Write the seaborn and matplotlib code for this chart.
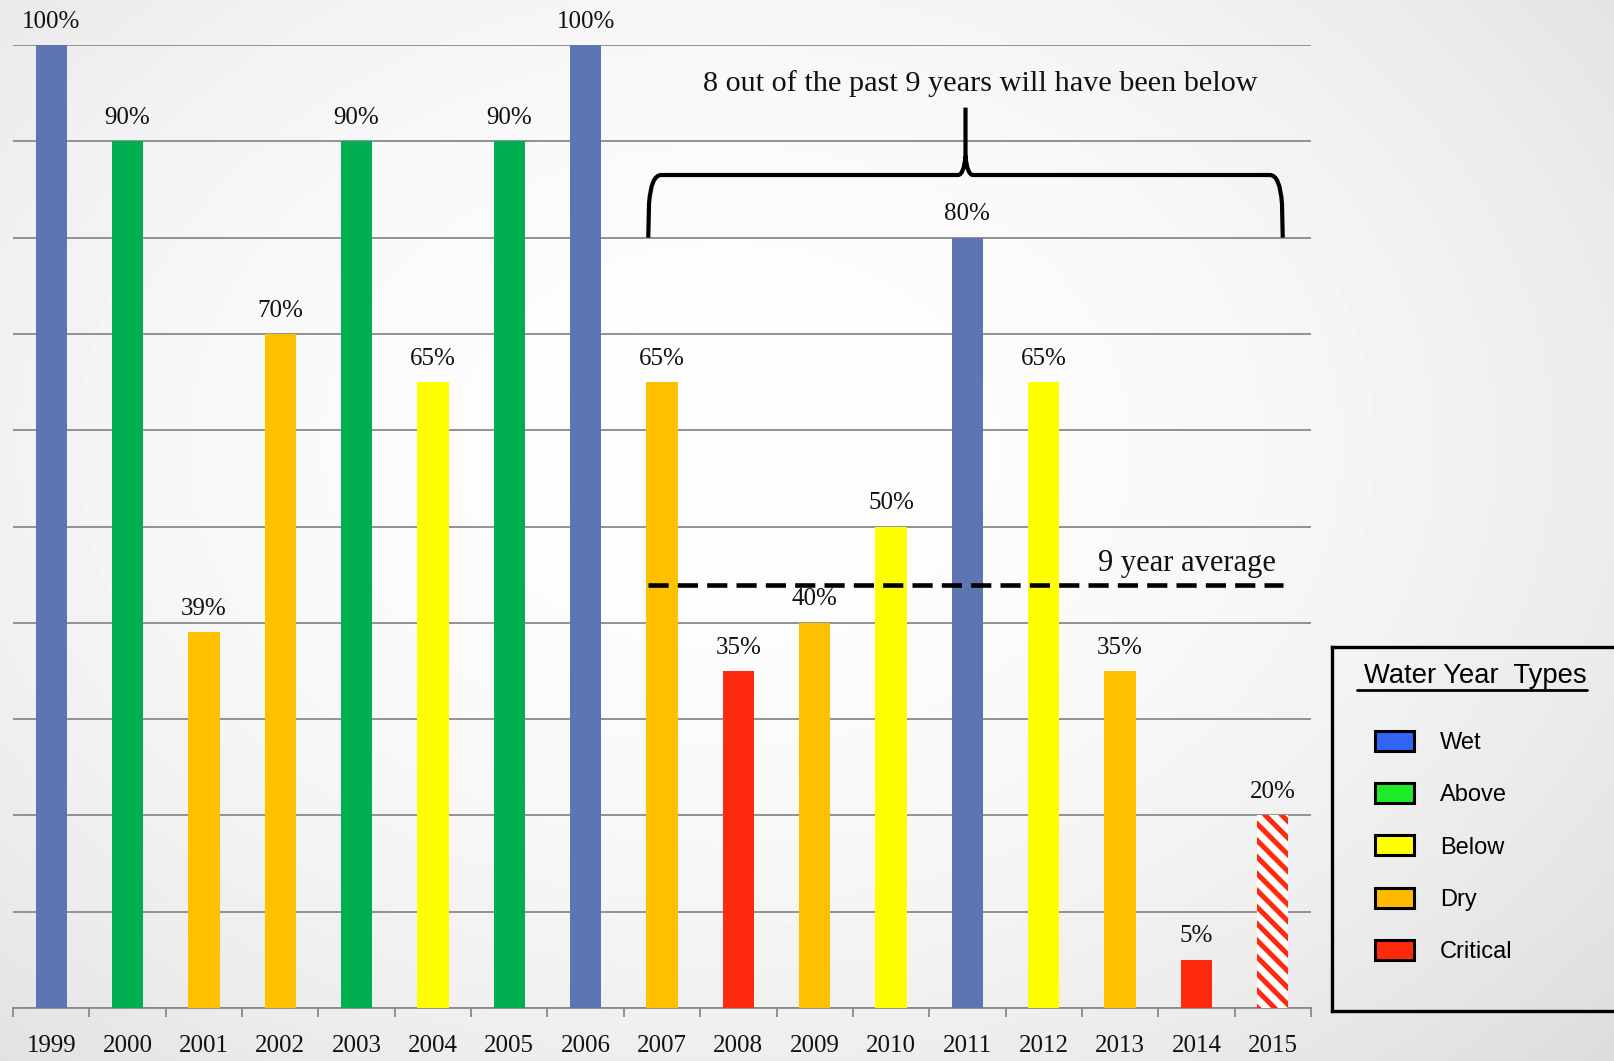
import numpy as np
import pandas as pd
import matplotlib
matplotlib.use("Agg")
import matplotlib.pyplot as plt
import seaborn as sns
from matplotlib.path import Path
from matplotlib.patches import PathPatch, Patch
from matplotlib.lines import Line2D
from matplotlib.transforms import IdentityTransform

# ---------------- data ----------------
years = ["1999", "2000", "2001", "2002", "2003", "2004", "2005", "2006", "2007",
         "2008", "2009", "2010", "2011", "2012", "2013", "2014", "2015"]
percent = [100, 90, 39, 70, 90, 65, 90, 100, 65, 35, 40, 50, 80, 65, 35, 5, 20]
year_type = ["Wet", "Above", "Dry", "Dry", "Above", "Below", "Above", "Wet", "Dry",
             "Critical", "Dry", "Below", "Wet", "Below", "Dry", "Critical", "Critical"]
projected_years = ["2015"]
type_order = ["Wet", "Above", "Below", "Dry", "Critical"]
bar_colors = {"Wet": "#5E75B3", "Above": "#00B050", "Below": "#FFFF00",
              "Dry": "#FFC000", "Critical": "#FF2A0D"}
legend_colors = {"Wet": "#3163F5", "Above": "#1EEB28", "Below": "#FFFF00",
                 "Dry": "#FFBA00", "Critical": "#FF2A0D"}
span_years = years[8:]          # 2007 - 2015
bracket_text = "8 out of the past 9 years will have been below"
average_text = "9 year average"
legend_title = "Water Year  Types"

df = pd.DataFrame({"year": years, "pct": percent, "type": year_type})

# ---------------- style ----------------
sns.set_theme(style="white")
plt.rcParams["font.family"] = ["Liberation Serif", "DejaVu Serif"]
plt.rcParams["hatch.linewidth"] = 3.6
SERIF = ["Liberation Serif", "DejaVu Serif"]
SANS = ["Liberation Sans", "DejaVu Sans"]
INK = "#111111"

W, H = 1614, 1061
fig = plt.figure(figsize=(W / 100, H / 100), dpi=100)

# slide-like background gradient
bg = fig.add_axes([0, 0, 1, 1], zorder=-10)
yy, xx = np.mgrid[0:1:300j, 0:1:400j]
r = np.sqrt(((xx - 0.45) / 0.62) ** 2 + ((yy - 0.42) / 0.70) ** 2)
val = 0.995 - 0.09 * np.clip(r, 0, 1.4) ** 2
bg.imshow(val, cmap="gray", vmin=0, vmax=1, extent=[0, 1, 0, 1], aspect="auto",
          origin="upper", interpolation="bilinear")
bg.set_axis_off()

# main axes
ax = fig.add_axes([13 / W, 1 - 1008 / H, (1311 - 13) / W, (1008 - 45) / H])
ax.set_facecolor("none")

sns.barplot(data=df, x="year", y="pct", hue="type", hue_order=type_order,
            order=years, palette=bar_colors, dodge=False, width=0.41,
            saturation=1, legend=False, ax=ax, zorder=3, linewidth=0)

# projected year: hatched
proj_idx = [years.index(y) for y in projected_years]
for p in ax.patches:
    c = p.get_x() + p.get_width() / 2
    if int(round(c)) in proj_idx:
        p.set_facecolor("white")
        p.set_edgecolor(bar_colors["Critical"])
        p.set_hatch("\\\\")
        p.set_linewidth(0)

# value labels
for i, v in enumerate(percent):
    ax.annotate(f"{v}%", (i, v), xytext=(0, 12.5), textcoords="offset points",
                ha="center", va="baseline", fontsize=18, family=SERIF,
                color=INK, annotation_clip=False)

ax.set_xlim(-0.5, len(years) - 0.5)
ax.set_ylim(0, 100)
ax.set_yticks(np.arange(0, 101, 10))
ax.yaxis.grid(True, color="#8a8a8a", linewidth=1.3)
ax.set_axisbelow(True)
ax.tick_params(axis="y", left=False, labelleft=False)
ax.set_xticks(np.arange(-0.5, len(years), 1), minor=True)
ax.tick_params(axis="x", which="major", length=0, pad=19.5, labelsize=18,
               labelcolor=INK)
ax.tick_params(axis="x", which="minor", bottom=True, length=6.5, width=1.3,
               color="#8a8a8a", direction="out")
for lab in ax.get_xticklabels():
    lab.set_family(SERIF)
ax.set_xlabel("")
ax.set_ylabel("")
for s in ["left", "right", "top"]:
    ax.spines[s].set_visible(False)
ax.spines["bottom"].set_color("#8a8a8a")
ax.spines["bottom"].set_linewidth(1.3)

# ---------------- 9 year span annotations ----------------
i0 = years.index(span_years[0])
i1 = years.index(span_years[-1])
L = i0 - 0.18
R = i1 + 0.13
M = (L + R) / 2
y0, y1, ytip = 80, 86.5, 93.5

verts = [(L, y0), (L + 0.01, y1 - 3.0), (L + 0.035, y1), (L + 0.17, y1),
         (M - 0.10, y1), (M - 0.02, y1), (M, y1 + 2.0), (M, ytip),
         (M, y1 + 2.0), (M + 0.02, y1), (M + 0.10, y1),
         (R - 0.17, y1), (R - 0.035, y1), (R - 0.01, y1 - 3.0), (R, y0)]
codes = [Path.MOVETO, Path.LINETO, Path.CURVE3, Path.CURVE3,
         Path.LINETO, Path.CURVE3, Path.CURVE3, Path.LINETO,
         Path.MOVETO, Path.CURVE3, Path.CURVE3,
         Path.LINETO, Path.CURVE3, Path.CURVE3, Path.LINETO]
ax.add_patch(PathPatch(Path(verts, codes), facecolor="none", edgecolor="black",
                       linewidth=3, capstyle="butt", joinstyle="round",
                       zorder=5, clip_on=False))
ax.text(M + 0.2, 96.0, bracket_text, ha="center", va="center", fontsize=21.8,
        family=SERIF, color=INK, clip_on=False)

avg = float(np.mean(percent[i0:i1 + 1]))
ax.plot([L, R], [avg, avg], color="black", linewidth=3.3, dashes=(4.4, 2.0),
        zorder=6, solid_capstyle="butt", dash_capstyle="butt")
ax.text(14.88, avg + 2.3, average_text, ha="center", va="center", fontsize=22,
        family=SERIF, color=INK)

# ---------------- legend box ----------------
lx0, ly0, ly1 = 1332, 647, 1011
lw_px = 330
ax_leg = fig.add_axes([lx0 / W, 1 - ly1 / H, lw_px / W, (ly1 - ly0) / H])
ax_leg.set_facecolor("none")
ax_leg.set_xticks([])
ax_leg.set_yticks([])
for s in ax_leg.spines.values():
    s.set_visible(True)
    s.set_color("black")
    s.set_linewidth(2.4)

title = ax_leg.text(32 / lw_px, 1 - (676 - ly0) / (ly1 - ly0), legend_title,
                    ha="left", va="center", fontsize=19.7, family=SANS,
                    color="black")

handles = [Patch(facecolor=legend_colors[t], edgecolor="black", linewidth=2.2)
           for t in type_order]
leg = ax_leg.legend(handles, type_order, loc="upper left",
                    bbox_to_anchor=(43 / lw_px, 1 - (731 - ly0) / (ly1 - ly0)),
                    frameon=False, prop={"family": SANS, "size": 17},
                    handlelength=1.65, handleheight=0.93, handletextpad=1.1,
                    labelspacing=1.23, borderpad=0, borderaxespad=0,
                    labelcolor="black")

fig.canvas.draw()
bb = title.get_window_extent(fig.canvas.get_renderer())
fig.add_artist(Line2D([bb.x0 - 7, bb.x1], [bb.y0 - 1, bb.y0 - 1], color="black",
                      linewidth=2.0, transform=IdentityTransform()))

fig.savefig("out.png", dpi=100)
